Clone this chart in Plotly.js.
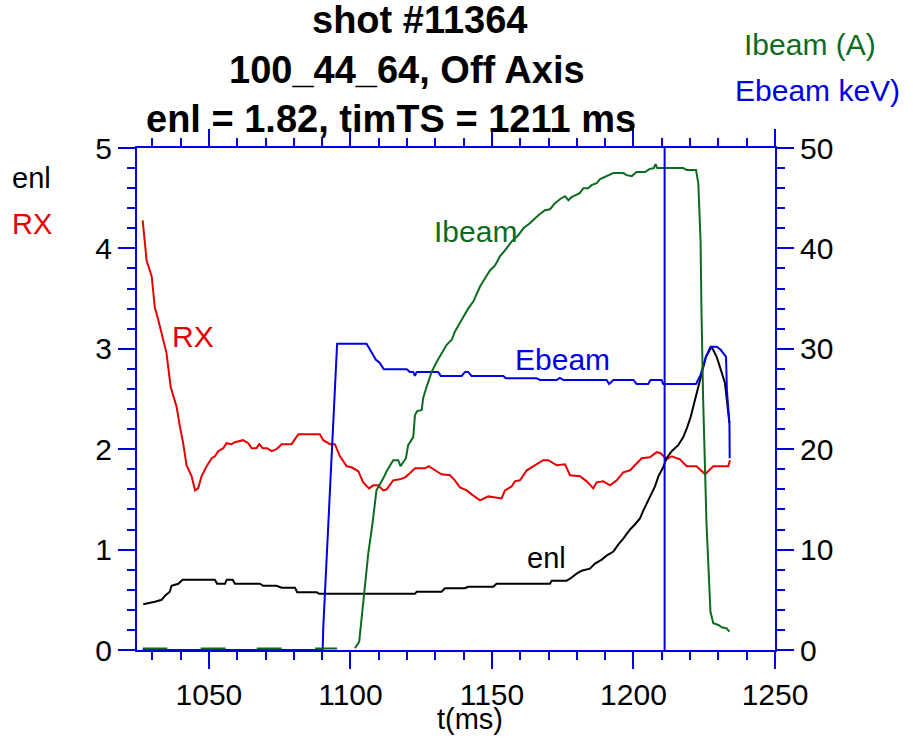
<!DOCTYPE html>
<html>
<head>
<meta charset="utf-8">
<script src="https://cdn.plot.ly/plotly-3.0.1.min.js"></script>
<style>html,body{margin:0;padding:0;background:#fff;}#chart{width:913px;height:743px;}</style>
</head>
<body>
<div id="chart"></div>
<script>
// ---- data ----
const timTS = 1211;

const rxT = [1026.6,1028.0,1029.8,1030.9,1032.1,1035.0,1036.5,1038.6,1039.8,1040.9,1042.1,1043.9,1045.1,1046.2,1047.4,1049.2,1051.0,1052.1,1053.3,1055.1,1056.2,1058.0,1059.2,1062.1,1063.9,1065.1,1066.8,1067.8,1069.0,1070.5,1072.2,1073.9,1075.7,1079.2,1081.6,1089.2,1090.4,1092.8,1094.5,1096.3,1098.7,1100.4,1102.8,1104.5,1106.6,1108.1,1109.8,1111.6,1112.8,1115.1,1117.5,1119.3,1121.0,1122.8,1126.3,1127.7,1129.9,1132.2,1135.2,1136.9,1138.7,1141.1,1142.8,1145.8,1148.7,1150.5,1153.4,1154.6,1157.0,1158.1,1159.9,1162.3,1164.6,1168.1,1169.9,1172.9,1175.8,1177.6,1181.1,1183.5,1185.8,1187.0,1189.3,1191.7,1194.1,1196.4,1198.8,1200.5,1202.9,1205.8,1208.2,1209.6,1211.7,1213.5,1216.4,1218.8,1222.3,1225.3,1228.2,1233.5,1234.1];
const rxV = [4.28,3.88,3.72,3.41,3.29,2.96,2.62,2.42,2.22,2.06,1.84,1.73,1.59,1.61,1.73,1.83,1.91,1.93,1.98,2.01,2.06,2.05,2.07,2.09,2.06,2.01,2.01,2.05,2.01,2.01,1.98,2.00,2.05,2.05,2.15,2.15,2.09,2.05,2.05,1.93,1.83,1.82,1.78,1.67,1.61,1.64,1.64,1.59,1.60,1.69,1.70,1.72,1.76,1.81,1.81,1.83,1.79,1.75,1.74,1.69,1.62,1.59,1.55,1.49,1.53,1.52,1.51,1.59,1.63,1.68,1.69,1.79,1.83,1.89,1.89,1.84,1.85,1.74,1.73,1.68,1.61,1.67,1.68,1.64,1.69,1.77,1.79,1.84,1.91,1.92,1.97,1.96,1.90,1.93,1.90,1.83,1.83,1.75,1.83,1.83,1.89];

const enlT = [1026.8,1028.6,1030.9,1033.3,1034.5,1036.2,1036.8,1039.2,1040.7,1052.1,1052.9,1055.7,1056.3,1058.4,1059.2,1068.0,1069.2,1073.9,1075.7,1080.4,1081.2,1088.1,1089.0,1122.8,1123.4,1132.2,1133.4,1140.5,1141.6,1150.5,1151.6,1170.5,1171.1,1176.4,1177.6,1179.9,1181.7,1184.6,1186.4,1188.8,1190.5,1192.9,1194.6,1196.4,1198.8,1200.5,1202.3,1203.5,1204.7,1205.8,1207.6,1208.8,1210.5,1211.7,1213.5,1215.8,1217.6,1219.0,1220.2,1221.1,1222.3,1223.7,1225.6,1227.6,1229.4,1231.2,1232.3,1232.9,1233.9];
const enlV = [0.455,0.465,0.48,0.50,0.54,0.58,0.64,0.66,0.70,0.70,0.66,0.66,0.70,0.70,0.66,0.66,0.64,0.64,0.62,0.62,0.575,0.575,0.56,0.56,0.58,0.58,0.615,0.615,0.63,0.63,0.66,0.66,0.69,0.69,0.71,0.76,0.79,0.81,0.86,0.90,0.94,0.98,1.05,1.11,1.20,1.25,1.31,1.39,1.46,1.53,1.63,1.73,1.82,1.91,1.98,2.04,2.12,2.22,2.32,2.42,2.56,2.72,2.92,3.02,2.92,2.76,2.66,2.51,2.26];

const ebeamT = [1026.6,1090.2,1090.4,1095.3,1105.7,1107.5,1109.0,1110.4,1111.8,1119.9,1121.0,1122.2,1122.8,1123.4,1131.0,1131.9,1139.3,1140.5,1141.6,1142.8,1154.0,1154.9,1165.8,1167.0,1172.9,1174.0,1175.2,1190.5,1191.4,1192.9,1200.0,1201.1,1205.2,1206.0,1209.9,1210.5,1222.1,1223.7,1225.6,1227.2,1229.4,1230.8,1232.7,1233.0,1233.9,1234.0];
const ebeamV = [0,0,2.2,30.5,30.5,29.7,28.9,28.6,27.96,27.96,27.7,27.7,27.3,27.7,27.7,27.3,27.3,27.7,27.7,27.3,27.3,27.06,27.06,26.9,26.9,27.1,26.9,26.9,26.5,26.9,26.9,26.5,26.5,26.9,26.9,26.5,26.5,27.4,29.2,30.2,30.2,29.9,29.2,25.9,22.6,19.1];

const ibeamT = [1026.6,1035.3,1036.0,1047.1,1055.9,1056.5,1066.9,1075.7,1076.5,1087.5,1095.3,1096.0,1101.6,1103.1,1104.5,1106.3,1107.8,1109.2,1111.6,1112.8,1115.1,1116.9,1117.7,1119.6,1120.4,1122.2,1122.8,1123.6,1125.2,1125.7,1126.9,1128.7,1130.5,1132.2,1134.0,1135.8,1136.9,1138.7,1141.6,1143.4,1145.8,1147.5,1149.3,1151.1,1152.8,1154.6,1157.0,1159.3,1161.1,1163.4,1166.4,1168.7,1170.5,1172.3,1174.0,1175.8,1177.0,1178.1,1179.9,1181.0,1182.3,1184.0,1185.2,1187.0,1188.2,1189.9,1192.9,1196.4,1197.6,1199.4,1201.1,1204.1,1205.6,1207.2,1207.8,1208.4,1217.6,1218.8,1222.1,1222.9,1223.7,1224.0,1224.6,1225.8,1227.2,1228.2,1230.0,1231.2,1232.9,1233.9];
const ibeamV = [0.15,0.15,null,0.15,0.15,null,0.15,0.15,null,0.15,0.15,null,0.17,0.83,4.65,9.6,12.6,15.9,17.1,17.8,18.9,18.9,18.3,19.1,20.4,21.2,23.4,23.8,23.9,25.1,26.2,27.7,28.7,29.5,30.4,30.9,31.7,32.6,34.0,34.7,36.2,37.0,37.8,38.3,39.2,39.8,40.7,41.3,42.0,42.5,43.3,43.8,43.9,44.5,44.9,45.2,44.8,45.1,45.4,45.5,46.0,46.0,46.3,46.5,46.9,47.1,47.5,47.5,47.3,47.2,47.6,47.6,47.9,48.0,48.4,48.0,48.0,47.8,47.8,46.5,40.8,34.2,25.1,12.6,3.8,2.66,2.49,2.26,2.16,1.82];

const xTickVals = [1050,1100,1150,1200,1250];
const yLeftTicks = [0,1,2,3,4,5];
const yRightTicks = [0,10,20,30,40,50];

// ---- styling ----
const RED = '#e60000', GREEN = '#0d6b1f', BLUE = '#0000e0', BLACK = '#000000';
const FONT = 'Liberation Sans, Arial, Helvetica, sans-serif';
const W = 913, H = 743;
const M = {l:137, r:138, t:148, b:93};
const PW = W - M.l - M.r, PH = H - M.t - M.b;
function px(x){ return (x - M.l) / PW; }
function py(y){ return (H - M.b - y) / PH; }

function ann(text, x, y, color, size, bold){
  return {text: bold ? '<b>'+text+'</b>' : text, x: px(x), y: py(y), xref:'paper', yref:'paper',
    xanchor:'center', yanchor:'middle', showarrow:false,
    font:{family:FONT, size:size, color:color}};
}

const traces = [
  {x: rxT, y: rxV, type:'scatter', mode:'lines', line:{color:RED, width:2}, yaxis:'y', name:'RX'},
  {x: enlT, y: enlV, type:'scatter', mode:'lines', line:{color:BLACK, width:2}, yaxis:'y', name:'enl'},
  {x: ebeamT, y: ebeamV, type:'scatter', mode:'lines', line:{color:BLUE, width:2}, yaxis:'y2', name:'Ebeam'},
  {x: ibeamT, y: ibeamV, type:'scatter', mode:'lines', line:{color:GREEN, width:2}, yaxis:'y2', name:'Ibeam', connectgaps:false}
];

const axisCommon = {
  showline:true, linecolor:BLUE, linewidth:2, showgrid:false, zeroline:false,
  ticks:'outside', ticklen:17, tickwidth:2, tickcolor:BLUE,
  tickfont:{family:FONT, size:30, color:BLACK}
};

const layout = {
  width: W, height: H, autosize:false,
  margin: M,
  paper_bgcolor:'#ffffff', plot_bgcolor:'#ffffff',
  showlegend:false,
  xaxis: Object.assign({}, axisCommon, {
    range:[1024.6, 1250], tickvals: xTickVals, ticktext: xTickVals.map(String),
    mirror:'ticks',
    minor:{dtick:10, tick0:1050, ticklen:8, tickwidth:2, tickcolor:BLUE, ticks:'outside', showgrid:false}
  }),
  yaxis: Object.assign({}, axisCommon, {
    range:[0,5], tickvals: yLeftTicks, ticktext: yLeftTicks.map(String),
    minor:{dtick:0.2, tick0:0, ticklen:8, tickwidth:2, tickcolor:BLUE, ticks:'outside', showgrid:false}
  }),
  yaxis2: Object.assign({}, axisCommon, {
    range:[0,50], overlaying:'y', side:'right', anchor:'x',
    tickvals: yRightTicks, ticktext: yRightTicks.map(String),
    minor:{dtick:2, tick0:0, ticklen:8, tickwidth:2, tickcolor:BLUE, ticks:'outside', showgrid:false}
  }),
  shapes: [
    {type:'line', xref:'x', yref:'paper', x0:timTS, x1:timTS, y0:0, y1:1, line:{color:BLUE, width:2}}
  ],
  annotations: [
    ann('shot #11364', 419, 20, BLACK, 38, true),
    ann('100_44_64, Off Axis', 407, 70, BLACK, 38, true),
    ann('enl = 1.82, timTS = 1211 ms', 391, 119, BLACK, 38, true),
    ann('enl', 31, 178, BLACK, 29),
    ann('RX', 32, 224, RED, 29),
    ann('Ibeam (A)', 810, 45, GREEN, 30),
    ann('Ebeam keV)', 817, 90, BLUE, 30),
    ann('Ibeam', 475, 231, GREEN, 30),
    ann('RX', 193, 336, RED, 30),
    ann('Ebeam', 562, 359, BLUE, 30),
    ann('enl', 546, 558, BLACK, 29),
    ann('t(ms)', 470, 719, BLACK, 29)
  ]
};

Plotly.newPlot('chart', traces, layout, {staticPlot:true, displayModeBar:false});
</script>
</body>
</html>
